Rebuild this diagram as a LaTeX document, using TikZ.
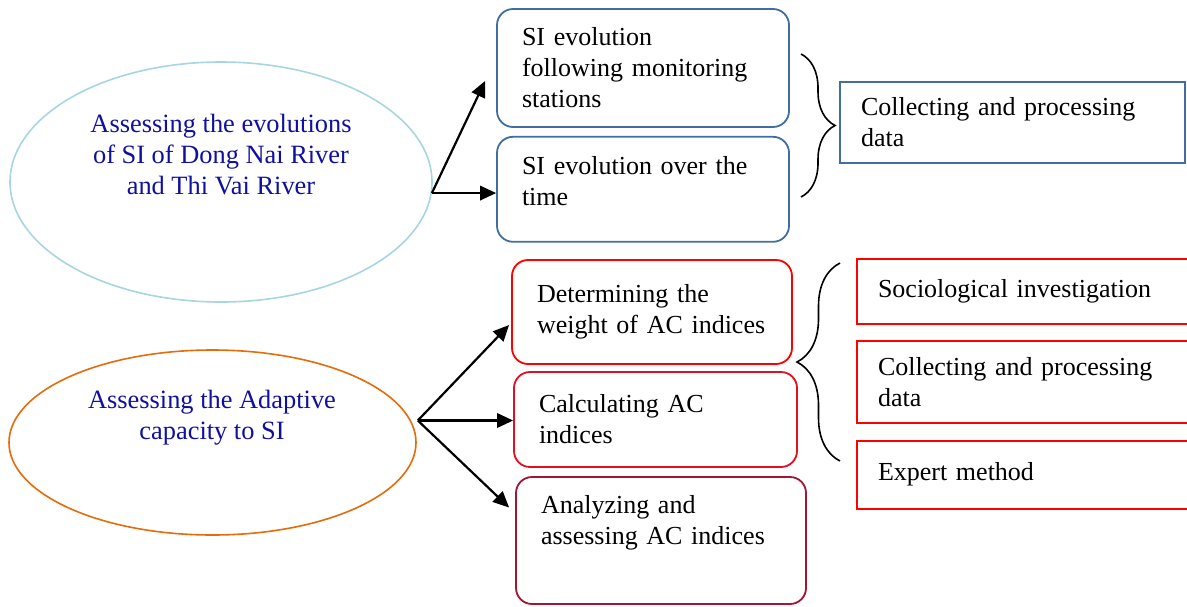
\documentclass[tikz,border=0pt]{standalone}
\usepackage{fontspec}
\setmainfont{Liberation Serif}
\usepackage{tikz}
\usetikzlibrary{shapes,decorations.pathreplacing,arrows.meta,calc,positioning}
\definecolor{skyline}{RGB}{165,214,226}
\definecolor{orangeline}{RGB}{228,108,10}
\definecolor{ovaltext}{RGB}{16,16,160}
\definecolor{boxblue}{RGB}{65,110,160}
\definecolor{boxred}{RGB}{255,0,0}
\definecolor{boxred2}{RGB}{225,15,35}
\definecolor{boxwine}{RGB}{165,20,50}
\tikzset{
    oval/.style ={ellipse, draw, line width=0.8pt, inner sep=0pt},
    ovaltxt/.style ={align=center, text=ovaltext, font=\fontsize{13.2}{15.5}\selectfont},
    task/.style ={rectangle, draw, rounded corners=8pt, line width=0.9pt, align=left, inner xsep=12.5pt, font=\fontsize{13}{15.5}\selectfont},
    method/.style ={rectangle, draw, line width=0.9pt, align=left, inner xsep=10.5pt, font=\fontsize{13}{15.5}\selectfont},
    arr/.style={-{Triangle[length=8pt,width=7.2pt]}, line width=1.1pt},
    curly/.style={decorate, decoration={brace, amplitude=#1}, line width=0.8pt}
}
\begin{document}
\begin{tikzpicture}[x=0.5pt,y=-0.5pt]
\useasboundingbox (0,0) rectangle (1187,606);
\clip (0,0) rectangle (1187,606);
\node[oval, draw=skyline, minimum width=211pt, minimum height=120pt](1) at (221,182){};
\node[ovaltxt](2) at (221,155){Assessing the evolutions\\of SI of Dong Nai River\\and Thi Vai River};
\node[task, draw=boxblue, text width=121pt, minimum height=59pt](3) at (643,68){SI evolution\\following monitoring\\stations};
\node[task, draw=boxblue, text width=121pt, minimum height=52.5pt, text depth=23.5pt](4)[below=4pt of 3]{SI evolution over the\\time};
\node[method, draw=boxblue, text width=151.5pt, minimum height=40.5pt](5) at (1012.5,122.5){Collecting and processing\\data};
\node[oval, draw=orangeline, minimum width=203.5pt, minimum height=92.5pt](6) at (212.5,442.5){};
\node[ovaltxt](7) at (212,418){Assessing the Adaptive\\capacity to SI};
\node[task, draw=boxred, text width=115pt, minimum height=52pt](8) at (652,312){Determining the\\weight of AC indices};
\node[task, draw=boxred2, text width=116.5pt, minimum height=47.5pt](9) at (655.5,419.5){Calculating AC\\indices};
\node[task, draw=boxwine, text width=120pt, minimum height=63.5pt](10) at (661,540.5){Analyzing and\\assessing AC indices\\\strut};
\node[method, draw=boxred, text width=148pt, minimum height=32.5pt](11) at (1026,291.5){Sociological investigation};
\node[method, draw=boxred, text width=148pt, minimum height=41pt](12)[below=7.5pt of 11]{Collecting and processing\\data};
\node[method, draw=boxred, text width=148pt, minimum height=34pt](13)[below=8pt of 12]{Expert method};
\coordinate (o1) at (1.-3);
\coordinate (o2) at ($(6.east)+(1,-22)$);
\draw[arr](o1)--($(3.west)+(-11,13)$);
\draw[arr](o1)--(o1-|4.west);
\draw[arr](o2)--($(8.west)+(-2,13)$);
\draw[arr](o2)--(o2-|9.west);
\draw[arr](o2)--($(10.west)+(-6,-33)$);
\draw[curly=17pt](801,54)--(801,197);
\draw[curly=21.5pt](840,461)--(840,263);
\end{tikzpicture}
\end{document}
